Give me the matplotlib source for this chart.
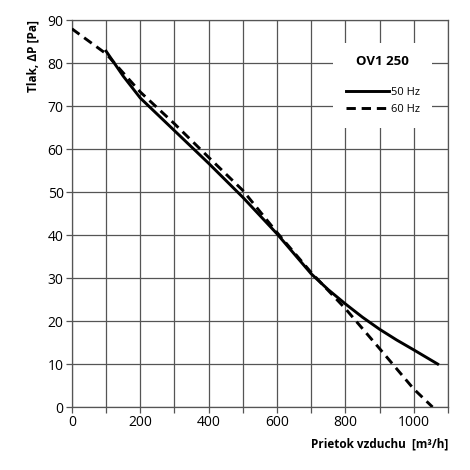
import matplotlib
matplotlib.use("Agg")
import matplotlib.pyplot as plt
from matplotlib.patches import Rectangle

plt.rcParams['font.family'] = ['Open Sans', 'DejaVu Sans']

# 50 Hz curve (solid)
flow_50 = [100, 150, 200, 300, 400, 500, 600, 700, 750, 800, 850, 900, 950, 1000, 1070]
pres_50 = [82.8, 77.0, 71.9, 64.3, 56.7, 48.8, 40.3, 31.0, 27.3, 24.0, 20.9, 18.1, 15.6, 13.3, 10.0]

# 60 Hz curve (dashed)
flow_60 = [0, 100, 200, 300, 400, 500, 600, 700, 800, 900, 1000, 1055]
pres_60 = [88.0, 82.2, 73.3, 65.9, 58.1, 50.4, 40.6, 31.3, 22.9, 13.6, 4.2, 0.0]

title = "OV1 250"
labels = ["50 Hz", "60 Hz"]

fig = plt.figure(figsize=(4.7, 4.7), dpi=100)
ax = fig.add_axes([0.153, 0.134, 0.8, 0.823])

ax.plot(flow_50, pres_50, color="black", lw=2.1, label=labels[0], zorder=4)
ax.plot(flow_60, pres_60, color="black", lw=2.1, linestyle=(0, (3.2, 2.0)),
        label=labels[1], zorder=4)

ax.set_xlim(0, 1100)
ax.set_ylim(0, 90)
ax.set_xticks(range(0, 1101, 100))
ax.set_xticklabels([str(v) if v % 200 == 0 and v <= 1000 else "" for v in range(0, 1101, 100)])
ax.set_yticks(range(0, 91, 10))
ax.grid(True, color="#555555", lw=0.9)
ax.set_axisbelow(True)
for s in ax.spines.values():
    s.set_color("#555555")
    s.set_linewidth(0.9)
ax.tick_params(length=4, width=0.9, color="#555555", labelsize=10, pad=2)

ax.set_ylabel("Tlak, ΔP [Pa]", fontsize=8.5, fontweight="bold", loc="top", labelpad=6)
ax.set_xlabel("Prietok vzduchu  [m³/h]", fontsize=8.5, fontweight="bold", loc="right", labelpad=5)

# white box behind legend
ax.add_patch(Rectangle((0.694, 0.721), 0.263, 0.22, transform=ax.transAxes,
                       facecolor="white", edgecolor="none", zorder=3))
ax.text(0.826, 0.893, title, transform=ax.transAxes, ha="center", va="center",
        fontsize=9.5, fontweight="bold", zorder=5)
leg = ax.legend(loc="upper left", bbox_to_anchor=(0.713, 0.842), frameon=False,
                fontsize=8, handlelength=3.9, handletextpad=0.2, labelspacing=0.55,
                borderpad=0)
leg.set_zorder(5)

fig.savefig("out.png", dpi=100)
